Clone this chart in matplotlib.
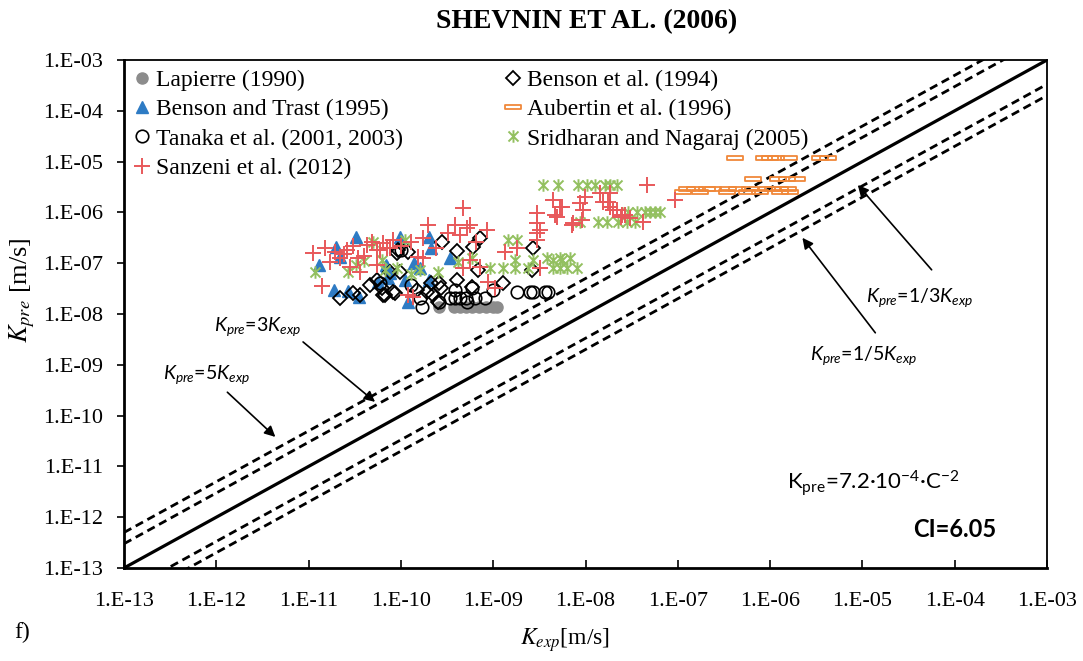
import numpy as np
import matplotlib
matplotlib.use('Agg')
from matplotlib import pyplot as plt
from matplotlib.path import Path
from matplotlib.ticker import FuncFormatter, FixedLocator

# ---- data ----
lapierre_x = [2.6e-10, 3.8e-10, 4.4e-10, 5.1e-10, 5.9e-10, 7.0e-10, 8.4e-10, 1.0e-9, 1.1e-9]
lapierre_y = [1.37e-8] * 9

benson94_x = [2.2e-11, 3.0e-11, 3.6e-11, 4.6e-11, 5.5e-11, 6.2e-11, 6.4e-11, 6.7e-11, 7.6e-11, 8.2e-11,
              8.6e-11, 9.1e-11, 9.3e-11, 9.8e-11, 1.2e-10, 1.5e-10, 1.9e-10, 2.1e-10, 2.2e-10, 2.5e-10,
              2.6e-10, 2.7e-10, 2.8e-10, 4.1e-10, 4.1e-10, 5.9e-10, 6.0e-10, 6.8e-10, 7.2e-10, 1.28e-9,
              2.6e-9, 2.7e-9]
benson94_y = [2.1e-8, 2.6e-8, 2.4e-8, 3.7e-8, 4.7e-8, 3.25e-8, 2.4e-8, 2.4e-8, 6.7e-8, 2.7e-8,
              2.6e-8, 1.6e-7, 1.8e-7, 6.7e-8, 1.66e-7, 3.0e-8, 2.7e-8, 4.1e-8, 2.4e-8, 1.7e-8,
              4.1e-8, 3.25e-8, 2.6e-7, 1.7e-7, 4.7e-8, 3.4e-8, 2.1e-7, 7.3e-8, 3.1e-7, 4.1e-8,
              7.3e-8, 2.0e-7]

trast_x = [3.3e-11, 2.0e-11, 1.3e-11, 2.2e-11, 6.9e-11, 1.9e-11, 2.7e-11, 3.5e-11, 7.2e-11, 5.6e-11,
           9.8e-11, 7.1e-11, 2.0e-10, 2.1e-10, 2.0e-10, 1.1e-10, 1.2e-10, 7.6e-11, 3.4e-10, 1.4e-10,
           1.6e-10]
trast_y = [3.3e-7, 2.1e-7, 9.2e-8, 1.3e-7, 9.2e-8, 3.0e-8, 2.8e-8, 2.2e-8, 5.1e-8, 4.3e-8,
           3.3e-7, 8.4e-8, 3.3e-7, 2.0e-7, 4.7e-8, 4.7e-8, 1.7e-8, 6.4e-8, 1.26e-7, 1.0e-7,
           8.0e-8]

aubertin_x = [4.2e-7, 8.6e-7, 1.0e-6, 1.15e-6, 1.6e-6, 3.5e-6, 4.2e-6,
              6.5e-7, 1.22e-6, 1.52e-6, 1.96e-6,
              1.26e-7, 1.54e-7, 2.07e-7, 2.4e-7, 3.5e-7, 4.4e-7, 6.1e-7, 9.3e-7, 1.07e-6, 1.28e-6, 1.56e-6,
              1.14e-7, 1.74e-7, 3.4e-7, 5.6e-7, 7.8e-7, 1.28e-6, 1.64e-6]
aubertin_y = [1.18e-5] * 7 + [4.5e-6] * 4 + [2.9e-6] * 11 + [2.5e-6] * 7

tanaka_x = [1.8e-9, 2.5e-9, 2.7e-9, 3.6e-9, 3.9e-9, 1.0e-9, 8.1e-10, 6.4e-10, 5.1e-10, 4.4e-10,
            3.9e-10, 3.4e-10, 5.2e-10, 2.6e-10, 1.7e-10, 1.6e-10, 1.3e-10, 5.9e-10, 3.9e-10, 1.0e-10,
            6.0e-11]
tanaka_y = [2.7e-8, 2.7e-8, 2.7e-8, 2.7e-8, 2.7e-8, 3.0e-8, 2.1e-8, 2.1e-8, 2.1e-8, 2.1e-8,
            2.1e-8, 2.1e-8, 1.7e-8, 1.7e-8, 1.37e-8, 2.1e-8, 3.7e-8, 3.25e-8, 3.0e-8, 1.8e-7,
            4.0e-8]

sridharan_x = [3.5e-9, 5.0e-9, 8.3e-9, 1.04e-8, 1.27e-8, 1.63e-8, 1.84e-8, 2.2e-8,
               2.9e-8, 3.6e-8, 4.4e-8, 5.0e-8, 5.7e-8, 6.4e-8,
               8.7e-9, 1.37e-8, 1.71e-8, 2.25e-8, 2.8e-8, 3.4e-8,
               9.2e-10, 1.28e-9, 1.72e-9, 2.4e-9, 4.4e-9, 5.3e-9, 6.3e-9, 8.1e-9,
               1.72e-9, 2.7e-9, 4.4e-9, 5.6e-9,
               1.45e-9, 1.8e-9, 3.8e-9, 5.3e-9, 6.8e-9,
               1.1e-10, 2.5e-10, 4.2e-10, 5.9e-10, 1.6e-10, 6.2e-11, 1.17e-11, 3.3e-11, 2.7e-11,
               5.0e-11, 6.7e-11, 9.0e-11, 1.3e-10, 4.0e-11]
sridharan_y = [3.5e-6] * 8 + [1.0e-6] * 6 + [6.5e-7] * 6 + [8.1e-8] * 8 + [1.16e-7] * 4 + \
              [2.9e-7, 2.9e-7, 1.26e-7, 1.26e-7, 1.26e-7] + \
              [2.9e-7, 6.7e-8, 1.06e-7, 1.26e-7, 7.3e-8, 1.16e-7, 6.7e-8, 9.2e-8, 6.7e-8,
               2.6e-7, 7.3e-8, 8.0e-8, 6.0e-8, 1.1e-7]

sanzeni_x = [1.12e-11, 1.4e-11, 1.7e-11, 1.93e-11, 2.6e-11, 2.8e-11, 3.6e-11, 4.3e-11, 4.9e-11, 5.5e-11,
             6.4e-11, 7.6e-11, 8.2e-11, 3.4e-11, 2.2e-11, 5.5e-11, 5.9e-11, 7.1e-11, 4.7e-10, 1.97e-10,
             3.9e-10, 5.6e-10, 8.6e-10, 3.2e-10, 4.4e-10, 5.2e-10, 1.73e-10, 1.53e-10, 1.73e-10, 5.6e-10,
             7.2e-10, 4.7e-10, 8.8e-10, 1.05e-9, 1.19e-10, 1.35e-10, 1.34e-9, 1.8e-9, 3.0e-9, 3.0e-9,
             3.0e-9, 3.0e-9, 4.4e-9, 5.6e-9, 8.7e-9, 9.9e-9, 1.44e-8, 1.75e-8, 1.99e-8, 2.5e-8,
             7.3e-9, 9.2e-9, 4.9e-9, 3.2e-9, 4.6e-8, 9.3e-8, 5.3e-9, 9.4e-9, 1.84e-8, 1.55e-8,
             1.84e-8, 2.2e-8, 2.4e-8, 2.7e-8, 4.7e-9, 7.1e-9, 4.2e-8, 3.0e-8, 3.2e-9, 1.5e-11,
             2.4e-11, 3.0e-11, 4.0e-11, 1.0e-10, 1.3e-10, 2.4e-10, 6.5e-10]
sanzeni_y = [1.6e-7, 3.6e-8, 1.06e-7, 1.66e-7, 1.8e-7, 8.4e-8, 6.7e-8, 2.3e-7, 2.6e-7, 1.8e-7,
             2.5e-7, 2.0e-7, 2.9e-7, 1.26e-7, 1.26e-7, 9.2e-8, 1.8e-7, 2.0e-7, 1.22e-6, 5.6e-7,
             5.6e-7, 5.6e-7, 4.5e-7, 3.9e-7, 3.6e-7, 4.9e-7, 3.1e-7, 1.32e-7, 1.26e-7, 1.16e-7,
             8.4e-8, 8.1e-8, 4.3e-8, 3.25e-8, 2.4e-8, 2.2e-8, 1.66e-7, 2.0e-7, 9.7e-7, 6.2e-7,
             3.9e-7, 2.9e-7, 1.75e-6, 1.28e-6, 1.53e-6, 2.0e-6, 2.4e-6, 1.6e-6, 1.11e-6, 8.9e-7,
             6.2e-7, 7.1e-7, 8.1e-7, 8.1e-8, 3.5e-6, 1.75e-6, 1.28e-6, 1.11e-6, 2.4e-6, 1.6e-6,
             1.28e-6, 1.11e-6, 8.1e-7, 8.9e-7, 8.9e-7, 5.6e-7, 6.5e-7, 7.8e-7, 4.5e-7, 2.0e-7,
             1.5e-7, 2.2e-7, 1.4e-7, 2.2e-7, 2.6e-7, 2.0e-7, 2.6e-7]

ratios = [1, 3, 5, 1 / 3, 1 / 5]
tick_values = [1e-13, 1e-12, 1e-11, 1e-10, 1e-9, 1e-8, 1e-7, 1e-6, 1e-5, 1e-4, 1e-3]

# ---- style ----
plt.rcParams['font.family'] = 'Liberation Serif'
plt.rcParams['mathtext.fontset'] = 'custom'
plt.rcParams['mathtext.rm'] = 'Lato'
plt.rcParams['mathtext.it'] = 'Lato:italic'
plt.rcParams['mathtext.bf'] = 'Lato:bold'

star = Path([(-1, -1), (1, 1), (-1, 1), (1, -1), (0, -1.25), (0, 1.25)],
            [Path.MOVETO, Path.LINETO, Path.MOVETO, Path.LINETO, Path.MOVETO, Path.LINETO])
rect = Path([(-1, -0.3), (1, -0.3), (1, 0.3), (-1, 0.3), (-1, -0.3)],
            [Path.MOVETO, Path.LINETO, Path.LINETO, Path.LINETO, Path.CLOSEPOLY])

fig = plt.figure(figsize=(10.83, 6.61), dpi=100)
ax = fig.add_axes([124 / 1083, 1 - 568 / 661, 923 / 1083, 508 / 661])

h_lap, = ax.plot(lapierre_x, lapierre_y, 'o', color='#8C8C8C', ms=8, mec='#8C8C8C', label='Lapierre (1990)', zorder=3)
h_b94, = ax.plot(benson94_x, benson94_y, 'D', color='black', mfc='none', ms=7, mew=1.3,
                 label='Benson et al. (1994)', zorder=4)
h_bt, = ax.plot(trast_x, trast_y, '^', color='#2E7BC4', ms=9, label='Benson and Trast (1995)', zorder=3)
h_au, = ax.plot(aubertin_x, aubertin_y, marker=rect, ls='none', color='#F0883A', mfc='none', ms=11, mew=1.3,
                label='Aubertin et al. (1996)', zorder=4)
h_ta, = ax.plot(tanaka_x, tanaka_y, 'o', color='black', mfc='none', ms=9, mew=1.2,
                label='Tanaka et al. (2001, 2003)', zorder=4)
h_sr, = ax.plot(sridharan_x, sridharan_y, marker=star, ls='none', color='#93C060', mfc='none', ms=9, mew=1.4,
                label='Sridharan and Nagaraj (2005)', zorder=4)
h_sa, = ax.plot(sanzeni_x, sanzeni_y, '+', color='#E8585A', ms=12, mew=1.4, label='Sanzeni et al. (2012)', zorder=5)

lim = np.array([1e-13, 1e-3])
for r in ratios:
    if r == 1:
        ax.plot(lim, lim * r, color='black', lw=2.3, zorder=2)
    else:
        ax.plot(lim, lim * r, color='black', lw=2.0, ls=(0, (3, 1.8)), zorder=2)

ax.set_xscale('log')
ax.set_yscale('log')
ax.set_xlim(1e-13, 1e-3)
ax.set_ylim(1e-13, 1e-3)
fmt = FuncFormatter(lambda v, p: '1.E%03d' % int(round(np.log10(v))))
for a in (ax.xaxis, ax.yaxis):
    a.set_major_locator(FixedLocator(tick_values))
    a.set_major_formatter(fmt)
    a.set_minor_locator(FixedLocator([]))
ax.tick_params(axis='x', direction='in', length=6, width=1.2, pad=17, labelsize=16)
ax.tick_params(axis='y', direction='out', length=5, width=1.2, pad=10, labelsize=16)
for s in ax.spines.values():
    s.set_linewidth(1.3)
ax.spines['left'].set_linewidth(2)
ax.spines['bottom'].set_linewidth(2)

# column-wise order so rows read as in the reference
handles = [h_lap, h_bt, h_ta, h_sa, h_b94, h_au, h_sr]
ax.legend(handles=handles, loc='upper left', bbox_to_anchor=(0.0, 1.0), ncol=2, frameon=False, fontsize=17,
          handlelength=0.7, handletextpad=0.25, columnspacing=4.3, labelspacing=0.33,
          borderpad=0.2, borderaxespad=0.2)

fig.text(587 / 1083, 1 - 22 / 661, 'SHEVNIN ET AL. (2006)', ha='center', va='center',
         fontsize=20, fontweight='bold')
fig.text(565 / 1083, 1 - 640 / 661, r'$K_{exp}$[m/s]', ha='center', va='center', fontsize=17,
         math_fontfamily='stix')
fig.text(22 / 1083, 1 - 290 / 661, r'$K_{pre}$ [m/s]', ha='center', va='center', fontsize=19,
         rotation=90, math_fontfamily='stix')
fig.text(14 / 1083, 1 - 632 / 661, 'f)', ha='left', va='center', fontsize=17)

arrow = dict(arrowstyle='-|>', color='black', lw=1.2, mutation_scale=16, shrinkA=0, shrinkB=0)
notes = [(r'$K_{pre}$=3$K_{exp}$', (0.145, 0.476), (0.194, 0.445), (0.272, 0.327)),
         (r'$K_{pre}$=5$K_{exp}$', (0.090, 0.380), (0.112, 0.346), (0.164, 0.258)),
         (r'$K_{pre}$=1/3$K_{exp}$', (0.862, 0.533), (0.875, 0.587), (0.795, 0.754)),
         (r'$K_{pre}$=1/5$K_{exp}$', (0.801, 0.419), (0.814, 0.463), (0.735, 0.650))]
for txt, tpos, tail, head in notes:
    ax.text(tpos[0], tpos[1], txt, transform=ax.transAxes, ha='center', va='center',
            fontsize=14, family='Lato')
    ax.annotate('', xy=head, xytext=tail, xycoords='axes fraction', textcoords='axes fraction',
                arrowprops=arrow)

ax.text(0.812, 0.167, r'K$_{\mathrm{pre}}$=7.2·10$^{\mathrm{-4}}$·C$^{\mathrm{-2}}$', transform=ax.transAxes,
        ha='center', va='center', fontsize=16, family='Lato')
ax.text(0.900, 0.075, 'CI=6.05', transform=ax.transAxes, ha='center', va='center',
        fontsize=17, family='Lato', fontweight='bold')

fig.savefig('out.png', dpi=100)
